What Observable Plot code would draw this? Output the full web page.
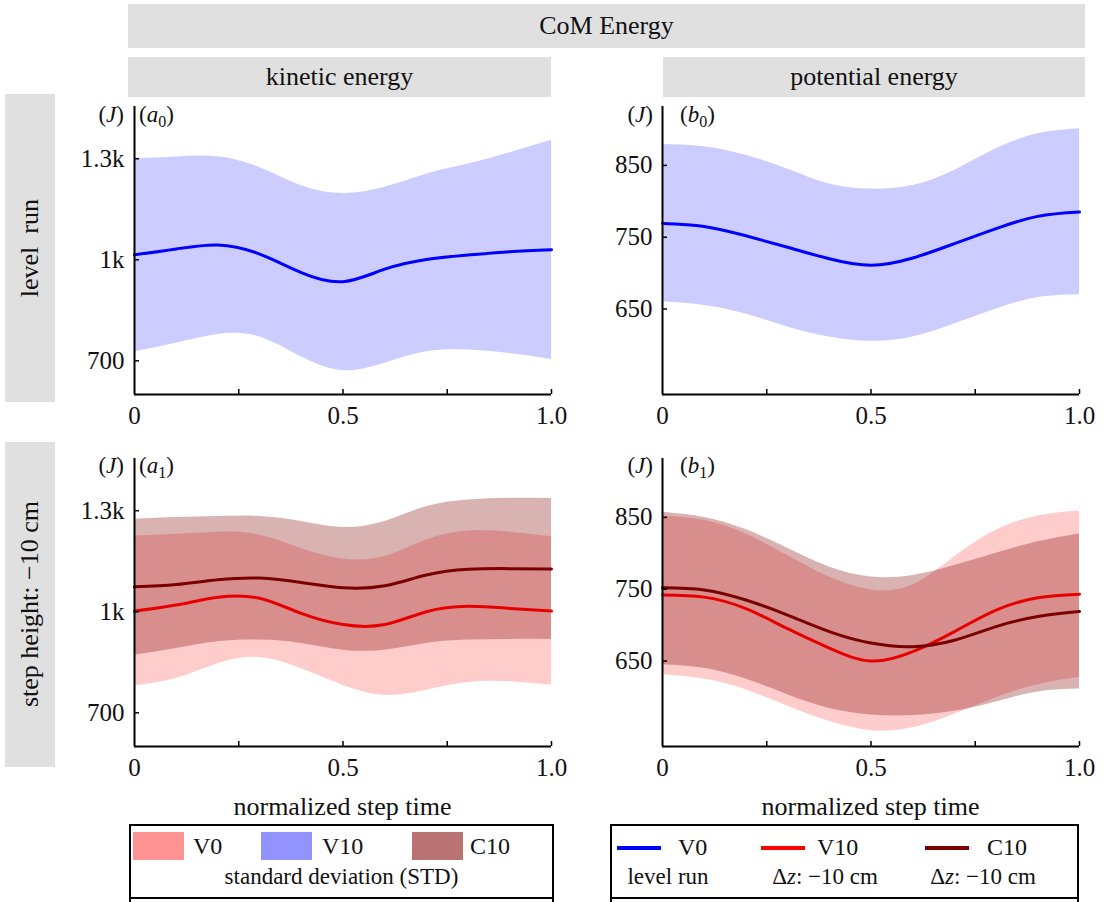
<!DOCTYPE html>
<html>
<head>
<meta charset="utf-8">
<script src="https://cdn.jsdelivr.net/npm/d3@7"></script>
<script src="https://cdn.jsdelivr.net/npm/@observablehq/plot@0.6"></script>
<style>
  html, body { margin: 0; padding: 0; background: #fff; }
  body { font-family: "Liberation Serif", "DejaVu Serif", serif; color: #111; }
  #fig { position: relative; width: 1108px; height: 902px; overflow: hidden; background: #fff; }
  #fig svg text { font-family: "Liberation Serif", serif !important; }
  .hdr { position: absolute; background: #e0e0e0; display: flex; align-items: center; justify-content: center; font-size: 26px; }
  .rowlab { position: absolute; background: #e0e0e0; display: flex; align-items: center; justify-content: center; }
  .rowlab span { writing-mode: vertical-rl; transform: rotate(180deg); font-size: 26px; white-space: pre; }
  .abs { position: absolute; white-space: pre; }
  .plotwrap { position: absolute; }
  .legbox { position: absolute; border: 2px solid #000; box-sizing: border-box; }
  .sw { position: absolute; }
</style>
</head>
<body>
<div id="fig"></div>
<script>
// ---------------- data ----------------
const stepTime = [0, 0.1, 0.2, 0.3, 0.4, 0.5, 0.6, 0.7, 0.8, 0.9, 1.0];

// (a0) kinetic energy, level run (V0)
const keV0Mean  = [1015, 1032, 1044, 1017, 962, 935, 972, 1001, 1014, 1024, 1030];
const keV0Upper = [1300, 1305, 1306, 1274, 1220, 1197, 1215, 1254, 1284, 1318, 1355];
const keV0Lower = [727, 752, 778, 771, 712, 671, 693, 727, 732, 722, 704];

// (b0) potential energy, level run (V0)
const peV0Mean  = [769, 765, 752, 736, 720, 711, 721, 741, 762, 779, 785];
const peV0Upper = [879, 876, 864, 845, 824, 817, 822, 843, 873, 894, 901];
const peV0Lower = [660, 655, 643, 625, 611, 605, 611, 629, 650, 666, 670];

// (a1) kinetic energy, step height -10 cm
const keV10Mean  = [1002, 1020, 1043, 1040, 995, 962, 962, 1000, 1016, 1010, 1002];
const keV10Upper = [1225, 1230, 1236, 1228, 1188, 1157, 1164, 1213, 1240, 1236, 1223];
const keV10Lower = [780, 802, 846, 864, 831, 782, 752, 767, 790, 792, 782];
const keC10Mean  = [1074, 1081, 1095, 1100, 1087, 1071, 1077, 1109, 1126, 1128, 1127];
const keC10Upper = [1275, 1280, 1283, 1283, 1268, 1250, 1268, 1312, 1332, 1337, 1336];
const keC10Lower = [871, 891, 911, 916, 906, 886, 886, 906, 916, 918, 918];

// (b1) potential energy, step height -10 cm
const peV10Mean  = [742, 739, 723, 695, 668, 650, 663, 691, 721, 738, 743];
const peV10Upper = [852, 846, 827, 797, 767, 749, 756, 795, 832, 852, 859];
const peV10Lower = [631, 625, 610, 587, 566, 553, 557, 576, 599, 617, 627];
const peC10Mean  = [752, 749, 735, 714, 691, 675, 670, 679, 698, 712, 719];
const peC10Upper = [857, 850, 833, 807, 781, 767, 769, 783, 800, 816, 827];
const peC10Lower = [645, 640, 625, 603, 584, 575, 574, 580, 593, 607, 611];

// axes
const keDomain = [600, 1455];
const peDomain = [531, 932];
const keTicks = [700, 1000, 1300];
const keTickLabels = ["700", "1k", "1.3k"];
const peTicks = [650, 750, 850];
const peTickLabels = ["650", "750", "850"];
const xTicks = [0, 0.5, 1];
const xTickLabels = ["0", "0.5", "1.0"];
const xMinorTicks = [0.25, 0.5, 0.75, 1];

// text
const mainTitle = "CoM Energy";
const colTitles = ["kinetic energy", "potential energy"];
const rowTitles = ["level  run", "step height: \u221210 cm"];
const xTitle = "normalized step time";

// colours
const colBlue = "#0000ff", colRed = "#e60000", colMaroon = "#7a0000";

// ---------------- helpers ----------------
const fig = document.getElementById("fig");
function el(tag, cls, style, html) {
  const e = document.createElement(tag);
  if (cls) e.className = cls;
  Object.assign(e.style, style || {});
  if (html != null) e.innerHTML = html;
  fig.appendChild(e);
  return e;
}
const band = (lo, hi) => stepTime.map((t, i) => ({t, lo: lo[i], hi: hi[i]}));
const line = (v) => stepTime.map((t, i) => ({t, v: v[i]}));

const PW = 417, PH = 288, W = 510, H = 330, MT = 6, MB = H - MT - PH;
const FONT = "Liberation Serif";

function panel({left, top, ml, yDomain, yTicks, yLabels, bands, lines}) {
  const mr = W - ml - PW;
  const marks = [];
  for (const b of bands) {
    marks.push(Plot.areaY(band(b.lo, b.hi), {x: "t", y1: "lo", y2: "hi", fill: b.color, fillOpacity: b.opacity, curve: "natural"}));
  }
  for (const l of lines) {
    marks.push(Plot.line(line(l.v), {x: "t", y: "v", stroke: l.color, strokeWidth: 3, curve: "natural"}));
  }
  marks.push(Plot.ruleX([0], {stroke: "#000", strokeWidth: 2}));
  marks.push(Plot.ruleY([yDomain[0]], {stroke: "#000", strokeWidth: 2}));
  marks.push(Plot.tickX(xMinorTicks, {x: d => d, insetTop: PH - 5, stroke: "#000", strokeWidth: 1.5}));
  marks.push(Plot.tickY(yTicks, {y: d => d, insetRight: PW - 5, stroke: "#000", strokeWidth: 1.5}));
  marks.push(Plot.axisX(xTicks, {tickSize: 0, tickPadding: 12, fontSize: 25, fontFamily: FONT, tickFormat: d => xTickLabels[xTicks.indexOf(d)], label: null}));
  marks.push(Plot.axisY(yTicks, {tickSize: 0, tickPadding: 10, fontSize: 25, fontFamily: FONT, tickFormat: d => yLabels[yTicks.indexOf(d)], label: null}));
  const svg = Plot.plot({
    width: W, height: H,
    marginLeft: ml, marginRight: mr, marginTop: MT, marginBottom: MB,
    x: {domain: [0, 1], axis: null},
    y: {domain: yDomain, axis: null},
    style: {fontFamily: FONT, fontSize: "25px", color: "#111", background: "transparent", overflow: "visible"},
    marks
  });
  const wrap = el("div", "plotwrap", {left: left + "px", top: top + "px"});
  wrap.appendChild(svg);
}

// ---------------- headers ----------------
el("div", "hdr", {left: "128px", top: "4px", width: "957px", height: "44px"}, mainTitle);
el("div", "hdr", {left: "128px", top: "57px", width: "423px", height: "40px"}, colTitles[0]);
el("div", "hdr", {left: "663px", top: "57px", width: "422px", height: "40px"}, colTitles[1]);
el("div", "rowlab", {left: "5px", top: "94px", width: "50px", height: "308px"}, `<span>${rowTitles[0]}</span>`);
el("div", "rowlab", {left: "5px", top: "442px", width: "50px", height: "325px"}, `<span>${rowTitles[1]}</span>`);

// ---------------- panels ----------------
const leftX = 60, rightX = 590, topY = 100, botY = 452;
panel({left: leftX, top: topY, ml: 74, yDomain: keDomain, yTicks: keTicks, yLabels: keTickLabels,
  bands: [{lo: keV0Lower, hi: keV0Upper, color: colBlue, opacity: 0.2}],
  lines: [{v: keV0Mean, color: colBlue}]});
panel({left: rightX, top: topY, ml: 72, yDomain: peDomain, yTicks: peTicks, yLabels: peTickLabels,
  bands: [{lo: peV0Lower, hi: peV0Upper, color: colBlue, opacity: 0.2}],
  lines: [{v: peV0Mean, color: colBlue}]});
panel({left: leftX, top: botY, ml: 74, yDomain: keDomain, yTicks: keTicks, yLabels: keTickLabels,
  bands: [{lo: keV10Lower, hi: keV10Upper, color: "#ff0000", opacity: 0.2},
          {lo: keC10Lower, hi: keC10Upper, color: "#800000", opacity: 0.3}],
  lines: [{v: keV10Mean, color: colRed}, {v: keC10Mean, color: colMaroon}]});
panel({left: rightX, top: botY, ml: 72, yDomain: peDomain, yTicks: peTicks, yLabels: peTickLabels,
  bands: [{lo: peV10Lower, hi: peV10Upper, color: "#ff0000", opacity: 0.2},
          {lo: peC10Lower, hi: peC10Upper, color: "#800000", opacity: 0.3}],
  lines: [{v: peV10Mean, color: colRed}, {v: peC10Mean, color: colMaroon}]});

// panel annotations
const ann = [
  {jx: 60, px: 139, y: 102, lab: "a", sub: "0"},
  {jx: 589, px: 680, y: 102, lab: "b", sub: "0"},
  {jx: 60, px: 139, y: 453, lab: "a", sub: "1"},
  {jx: 589, px: 680, y: 453, lab: "b", sub: "1"}
];
for (const a of ann) {
  el("div", "abs", {left: a.jx + "px", top: a.y + "px", width: "64px", textAlign: "right", fontSize: "23px", lineHeight: "26px"}, "(<i>J</i>)");
  el("div", "abs", {left: a.px + "px", top: a.y + "px", fontSize: "23px", lineHeight: "26px"}, `(<i>${a.lab}</i><sub style="font-size:16px;vertical-align:-5px">${a.sub}</sub>)`);
}

// x titles
el("div", "abs", {left: "134px", top: "792px", width: "417px", textAlign: "center", fontSize: "26px", lineHeight: "30px"}, xTitle);
el("div", "abs", {left: "662px", top: "792px", width: "417px", textAlign: "center", fontSize: "26px", lineHeight: "30px"}, xTitle);

// ---------------- legends ----------------
el("div", "legbox", {left: "129px", top: "824px", width: "425px", height: "75px"});
el("div", "legbox", {left: "129px", top: "897px", width: "425px", height: "20px", borderBottom: "none"});
el("div", "legbox", {left: "610px", top: "824px", width: "469px", height: "75px"});
el("div", "legbox", {left: "610px", top: "897px", width: "469px", height: "20px", borderBottom: "none"});

const stdLegend = [
  {name: "V0", color: "#ff9393", sx: 133, tx: 193},
  {name: "V10", color: "#9393ff", sx: 261, tx: 322},
  {name: "C10", color: "#b97373", sx: 412, tx: 470}
];
for (const s of stdLegend) {
  el("div", "sw", {left: s.sx + "px", top: "832px", width: "51px", height: "28px", background: s.color});
  el("div", "abs", {left: s.tx + "px", top: "831px", fontSize: "24px", lineHeight: "30px"}, s.name);
}
el("div", "abs", {left: "129px", top: "862px", width: "425px", textAlign: "center", fontSize: "23px", lineHeight: "30px"}, "standard deviation (STD)");

const lineLegend = [
  {name: "V0", color: colBlue, lx: 617, tx: 678, sub: "level run", cx: 668},
  {name: "V10", color: "#ff0000", lx: 761, tx: 817, sub: "\u0394<i>z</i>: \u221210 cm", cx: 825},
  {name: "C10", color: colMaroon, lx: 925, tx: 987, sub: "\u0394<i>z</i>: \u221210 cm", cx: 983}
];
for (const s of lineLegend) {
  el("div", "sw", {left: s.lx + "px", top: "846px", width: "44px", height: "4px", background: s.color});
  el("div", "abs", {left: s.tx + "px", top: "832px", fontSize: "24px", lineHeight: "30px"}, s.name);
  el("div", "abs", {left: (s.cx - 70) + "px", top: "862px", width: "140px", textAlign: "center", fontSize: "23px", lineHeight: "30px"}, s.sub);
}
</script>
</body>
</html>
